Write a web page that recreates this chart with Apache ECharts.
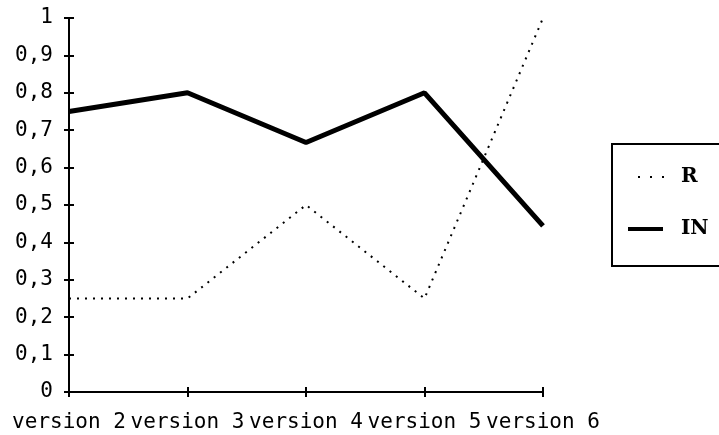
<!DOCTYPE html>
<html>
<head>
<meta charset="utf-8">
<script src="https://cdn.jsdelivr.net/npm/echarts@6/dist/echarts.min.js"></script>
<style>
  html, body { margin: 0; padding: 0; background: #fff; }
  #chart { width: 719px; height: 435px; }
</style>
</head>
<body>
<div id="chart"></div>
<script>
// Category labels and the two series
const categories = ['version 2', 'version 3', 'version 4', 'version 5', 'version 6'];
const seriesR = [0.25, 0.25, 0.5, 0.25, 1];
const seriesIN = [0.75, 0.8, 0.667, 0.8, 0.444];
const legendNames = ['R', 'IN'];

const axisFont = 'DejaVu Sans Mono';
const legendFont = 'DejaVu Serif';
const fmt = v => (Math.round(v * 10) / 10).toString().replace('.', ',');

const chart = echarts.init(document.getElementById('chart'), null, { renderer: 'canvas' });

const tick = inside => ({ show: true, inside: inside, length: 5, lineStyle: { color: '#000', width: 2 } });

const baseX = {
  type: 'category',
  data: categories,
  boundaryGap: false,
  axisLine: { lineStyle: { color: '#000', width: 2 } },
  splitLine: { show: false }
};
const baseY = {
  type: 'value',
  min: 0, max: 1, interval: 0.1,
  axisLine: { show: true, lineStyle: { color: '#000', width: 2 } },
  splitLine: { show: false }
};

// Legend box drawn as graphics: a frame, a key per series, and its name
const legendX = 612, legendY = 144;
const rowY = [177, 229];
const legendGraphics = [
  {
    type: 'rect',
    shape: { x: legendX, y: legendY, width: 130, height: 122 },
    style: { fill: null, stroke: '#000', lineWidth: 2 }
  },
  // dotted key for R
  ...[638, 650, 662].map(x => ({
    type: 'rect',
    shape: { x: x, y: rowY[0] - 1, width: 2, height: 2 },
    style: { fill: '#000' }
  })),
  // solid key for IN
  {
    type: 'rect',
    shape: { x: 628, y: rowY[1] - 2, width: 35, height: 4 },
    style: { fill: '#000' }
  },
  ...legendNames.map((name, i) => ({
    type: 'text',
    style: {
      x: 681, y: rowY[i], text: name,
      fill: '#000', font: 'bold 20px "' + legendFont + '"',
      textVerticalAlign: 'middle', textAlign: 'left'
    }
  }))
];

chart.setOption({
  animation: false,
  backgroundColor: '#fff',
  grid: { left: 69, right: 176, top: 18, bottom: 43 },
  xAxis: [
    Object.assign({}, baseX, {
      axisTick: tick(false),
      axisLabel: { color: '#000', fontFamily: axisFont, fontSize: 21, margin: 20, interval: 0 }
    }),
    Object.assign({}, baseX, {
      position: 'bottom',
      axisTick: tick(true),
      axisLabel: { show: false }
    })
  ],
  yAxis: [
    Object.assign({}, baseY, {
      axisTick: tick(false),
      axisLabel: { color: '#000', fontFamily: axisFont, fontSize: 21, margin: 16, formatter: fmt }
    }),
    Object.assign({}, baseY, {
      position: 'left',
      axisTick: tick(true),
      axisLabel: { show: false }
    })
  ],
  graphic: legendGraphics,
  series: [
    {
      name: 'R',
      type: 'line',
      data: seriesR,
      symbol: 'none',
      lineStyle: { color: '#000', width: 2, type: [2, 6] }
    },
    {
      name: 'IN',
      type: 'line',
      data: seriesIN,
      symbol: 'none',
      lineStyle: { color: '#000', width: 5 }
    }
  ]
});
</script>
</body>
</html>
